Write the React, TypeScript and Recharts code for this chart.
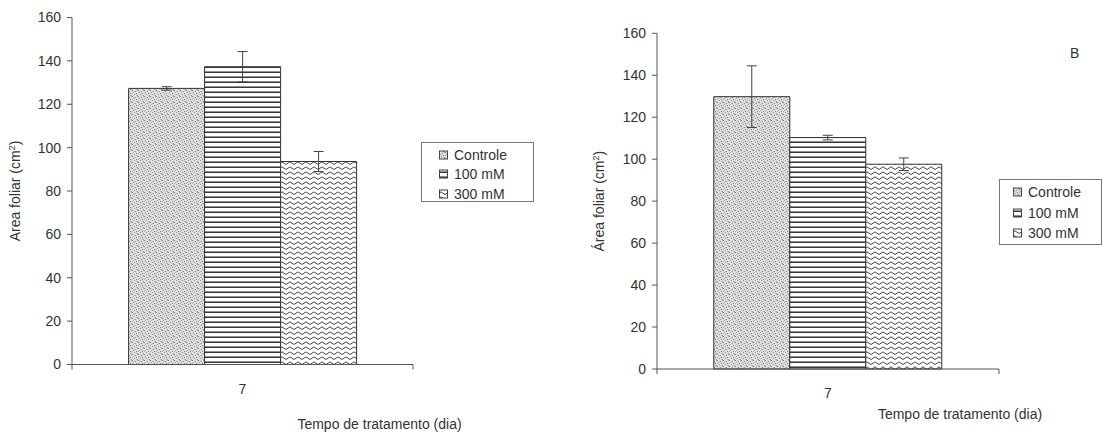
import React from 'react';
import { BarChart, Bar, XAxis, YAxis, ErrorBar, Legend } from 'recharts';

const days = ['7'];
const treatments = ['Controle', '100 mM', '300 mM'];
const yTicks = [0, 20, 40, 60, 80, 100, 120, 140, 160];

// panel A (no letter)
const meanA = [127.3, 137.3, 93.6];
const errA = [0.8, 7, 4.6];
// panel B
const meanB = [129.8, 110.3, 97.6];
const errB = [14.7, 1.1, 3];

const FONT = '"Liberation Sans", Arial, sans-serif';
const INK = '#333';
const KEYS = ['c', 'm100', 'm300'];

function buildRows(means: number[], errs: number[]) {
  return days.map((day) => {
    const row: Record<string, string | number> = { day };
    KEYS.forEach((k, i) => {
      row[k] = means[i];
      row[k + 'Err'] = errs[i];
    });
    return row;
  });
}

// scattered stipple dots for the control fill
const STIPPLE = [
  [0, 0, '#7c7c7c'], [3, 1, '#8e8e8e'], [1, 2, '#a4a4a4'], [4, 3, '#7c7c7c'],
  [2, 4, '#929292'], [5, 5, '#a0a0a0'], [0, 3, '#b4b4b4'], [5, 0, '#b0b0b0'],
  [2, 1, '#bdbdbd'], [4, 5, '#bababa'],
];

function Patterns({ id }: { id: string }) {
  return (
    <defs>
      <pattern id={`${id}-dots`} width="6" height="6" patternUnits="userSpaceOnUse">
        <rect width="6" height="6" fill="#e0e0e0" />
        {STIPPLE.map(([x, y, c], i) => (
          <rect key={i} x={x as number} y={y as number} width="1" height="1" fill={c as string} />
        ))}
      </pattern>
      <pattern id={`${id}-lines`} width="8" height="5" patternUnits="userSpaceOnUse">
        <rect width="8" height="5" fill="#fff" />
        <rect x="0" y="1.5" width="8" height="1.4" fill="#222" />
      </pattern>
      <pattern id={`${id}-wave`} width="8" height="5" patternUnits="userSpaceOnUse">
        <rect width="8" height="5" fill="#fff" />
        <path d="M0 3.2 Q2 0.6 4 3.2 T8 3.2" stroke="#333" strokeWidth="0.9" fill="none" />
      </pattern>
    </defs>
  );
}

const fills = (id: string) => [`url(#${id}-dots)`, `url(#${id}-lines)`, `url(#${id}-wave)`];

function DayTick(props: any) {
  const { x, y, payload, width } = props;
  const half = typeof width === 'number' ? width / 2 : null;
  return (
    <g>
      {half !== null && (
        <>
          <line x1={x - half} x2={x - half} y1={y} y2={y + 5} stroke="#555" />
          <line x1={x + half} x2={x + half} y1={y} y2={y + 5} stroke="#555" />
        </>
      )}
      <text x={x} y={y + 29} textAnchor="middle" fontSize={14} fill={INK} fontFamily={FONT}>
        {payload.value}
      </text>
    </g>
  );
}

interface PanelProps {
  id: string;
  means: number[];
  errs: number[];
  accent: boolean;
  left: number;
  width: number;
  top: number;
  bottom: number;
  right: number;
  yTitleX: number;
  xTitle: { dx: number; dy: number };
  legend: { left: number; top: number; w: number; h: number; icon: number; text: number; step: number };
  letter?: string;
}

function Panel(p: PanelProps) {
  const rows = buildRows(p.means, p.errs);
  const f = fills(p.id);

  const yTitle = ({ viewBox }: any) => {
    const cx = viewBox.x + p.yTitleX;
    const cy = viewBox.y + viewBox.height / 2;
    return (
      <text
        x={cx}
        y={cy}
        transform={`rotate(-90 ${cx} ${cy})`}
        textAnchor="middle"
        fontSize={14}
        fill={INK}
        fontFamily={FONT}
      >
        <tspan>{p.accent ? 'Área foliar (cm' : 'Area foliar (cm'}</tspan>
        <tspan dy={-5} fontSize={9}>2</tspan>
        <tspan dy={5}>)</tspan>
      </text>
    );
  };

  const xTitle = ({ viewBox }: any) => (
    <text
      x={viewBox.x + viewBox.width / 2 + p.xTitle.dx}
      y={viewBox.y + p.xTitle.dy}
      textAnchor="middle"
      fontSize={14}
      fill={INK}
      fontFamily={FONT}
    >
      Tempo de tratamento (dia)
    </text>
  );

  const lg = p.legend;
  const legendContent = () => (
    <div
      style={{
        width: lg.w,
        height: lg.h,
        boxSizing: 'border-box',
        border: '1px solid #777',
        background: '#fff',
        position: 'relative',
        fontFamily: FONT,
        fontSize: 14,
        color: INK,
      }}
    >
      {treatments.map((t, i) => (
        <div
          key={t}
          style={{
            position: 'absolute',
            left: lg.icon - 1,
            top: 3 + i * lg.step,
            height: 18,
            lineHeight: '18px',
            whiteSpace: 'nowrap',
            display: 'flex',
            alignItems: 'center',
          }}
        >
          <svg width={lg.text - lg.icon} height={18} style={{ display: 'block' }}>
            <rect x={0.5} y={5} width={8} height={8} fill={f[i]} stroke="#444" strokeWidth={1} />
          </svg>
          <span>{t}</span>
        </div>
      ))}
    </div>
  );

  return (
    <div style={{ position: 'absolute', left: p.left, top: 0 }}>
      <BarChart
        width={p.width}
        height={444}
        data={rows}
        margin={{ top: p.top, right: p.right, left: 0, bottom: 0 }}
        barCategoryGap="16.6%"
        barGap={0}
      >
        <Patterns id={p.id} />
        <XAxis
          dataKey="day"
          height={444 - p.bottom}
          axisLine={{ stroke: '#555' }}
          tickLine={false}
          tickSize={0}
          tickMargin={0}
          tick={<DayTick />}
          label={{ content: xTitle }}
        />
        <YAxis
          width={72}
          domain={[0, 160]}
          ticks={yTicks}
          interval={0}
          axisLine={{ stroke: '#555' }}
          tickLine={{ stroke: '#555' }}
          tickSize={5}
          tickMargin={6}
          tick={{ fontSize: 14, fill: INK, fontFamily: FONT }}
          label={{ content: yTitle }}
        />
        <Legend
          layout="horizontal"
          verticalAlign="middle"
          align="center"
          content={legendContent}
          wrapperStyle={{ position: 'absolute', left: lg.left, top: lg.top, width: lg.w, height: lg.h }}
        />
        {KEYS.map((k, i) => (
          <Bar
            key={k}
            dataKey={k}
            name={treatments[i]}
            fill={f[i]}
            stroke="#333"
            strokeWidth={1}
            isAnimationActive={false}
          >
            <ErrorBar dataKey={k + 'Err'} width={5} stroke="#444" strokeWidth={1} direction="y" />
          </Bar>
        ))}
      </BarChart>
      {p.letter && (
        <div
          style={{
            position: 'absolute',
            left: 485,
            top: 45,
            fontFamily: FONT,
            fontSize: 14,
            color: INK,
          }}
        >
          {p.letter}
        </div>
      )}
    </div>
  );
}

export default function App() {
  return (
    <div style={{ position: 'absolute', left: 0, top: 0, width: 1114, height: 444, background: '#fff' }}>
      <Panel
        id="pa"
        means={meanA}
        errs={errA}
        accent={false}
        left={0}
        width={560}
        top={17.5}
        bottom={364.5}
        right={147}
        yTitleX={20}
        xTitle={{ dx: 137, dy: 64 }}
        legend={{ left: 421, top: 142, w: 113, h: 60, icon: 18, text: 33, step: 19.3 }}
      />
      <Panel
        id="pb"
        means={meanB}
        errs={errB}
        accent
        left={585}
        width={529}
        top={33.3}
        bottom={369}
        right={115}
        yTitleX={19}
        xTitle={{ dx: 132, dy: 50 }}
        legend={{ left: 414, top: 179, w: 103, h: 66, icon: 14, text: 29, step: 20.5 }}
        letter="B"
      />
    </div>
  );
}
